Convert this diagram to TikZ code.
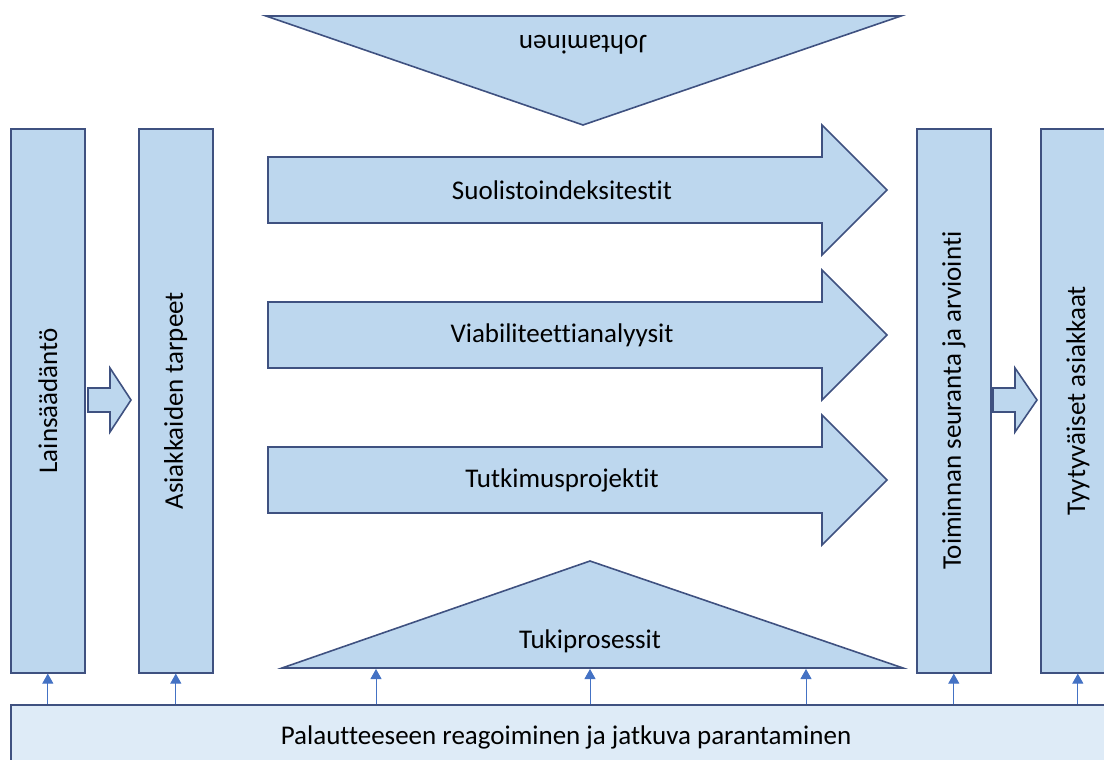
\documentclass[tikz,border=0pt]{standalone}
\usepackage{fontspec}
\setmainfont[Ligatures=NoCommon]{Carlito}
\usetikzlibrary{arrows.meta}
\definecolor{shapefill}{HTML}{BDD7EE}
\definecolor{shapeline}{HTML}{3F5180}
\definecolor{basefill}{HTML}{DEEBF7}
\definecolor{feedline}{HTML}{4472C4}
\begin{document}
\begin{tikzpicture}[x=1pt,y=-1pt,
  blockshape/.style={fill=shapefill,draw=shapeline,line width=1.6pt,line join=miter},
  bar/.style={blockshape,rectangle,minimum width=74pt,minimum height=544pt,inner sep=0pt,anchor=north west},
  label/.style={font=\fontsize{27}{32}\selectfont,text=black,inner sep=0pt},
  feed/.style={draw=feedline,line width=1pt,-{Triangle[length=10pt,width=11pt]}}]
\useasboundingbox (0,0) rectangle (1104,760);
\begin{scope}
\clip (0,0) rectangle (1104,760);

% vertical bars
\node[bar] (law) at (10,128) {};
\node[bar] (needs) at (138,128) {};
\node[bar] (eval) at (916,128) {};
\node[bar] (happy) at (1040,128) {};
\node[label,rotate=90] at (law.center) {Lainsäädäntö};
\node[label,rotate=90] at (needs.center) {Asiakkaiden tarpeet};
\node[label,rotate=90] at (eval.center) {Toiminnan seuranta ja arviointi};
\node[label,rotate=90] at (happy.center) {Tyytyväiset asiakkaat};

% small block arrows between bars
\path[blockshape] (88,388) -- (110,388) -- (110,368) -- (131,400) -- (110,432) -- (110,412) -- (88,412) -- cycle;
\path[blockshape] (993,388) -- (1015,388) -- (1015,368) -- (1037,400) -- (1015,432) -- (1015,412) -- (993,412) -- cycle;

% management triangle
\path[blockshape] (266,16) -- (901,16) -- (583,125) -- cycle;
\node[label,rotate=180] (mgmt) at (583,45) {Johtaminen};

% core process arrows
\foreach \c/\t/\n in {190/Suolistoindeksitestit/pa,335/Viabiliteettianalyysit/pb,480/Tutkimusprojektit/pc}{
  \path[blockshape] (268,\c-33) -- (822,\c-33) -- (822,\c-65) -- (887,\c) -- (822,\c+65) -- (822,\c+33) -- (268,\c+33) -- cycle;
  \node[label] (\n) at (562,\c) {\t};
}

% support triangle
\path[blockshape] (282,668) -- (590,561) -- (903,668) -- cycle;
\node[label] (supp) at (590,641) {Tukiprosessit};

% feedback bar
\node[blockshape,rectangle,fill=basefill,minimum width=1110pt,minimum height=62pt,inner sep=0pt,anchor=north west] (fb) at (10,704) {};
\node[label] (fbtext) at (566,737) {Palautteeseen reagoiminen ja jatkuva parantaminen};

% feedback arrows
\coordinate (t1) at (376,669);
\coordinate (t2) at (590,669);
\coordinate (t3) at (806,669);
\foreach \n in {law,needs,eval,happy}{
  \draw[feed] (fb.north -| \n.south) -- (\n.south);
}
\foreach \n in {t1,t2,t3}{
  \draw[feed] (fb.north -| \n) -- (\n);
}
\end{scope}
\end{tikzpicture}
\end{document}
